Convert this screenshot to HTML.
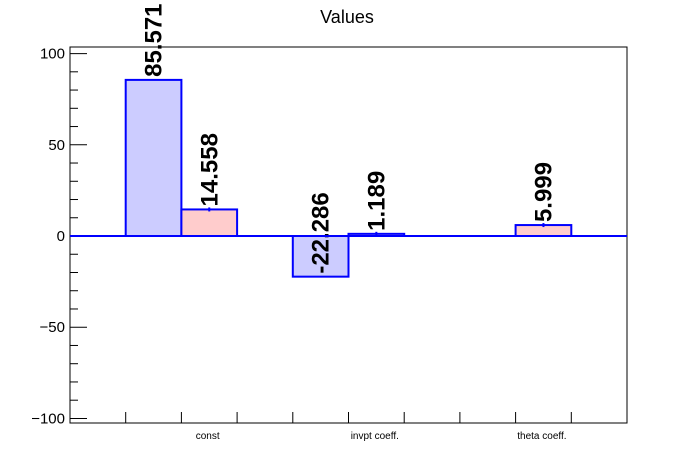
<!DOCTYPE html>
<html><head><meta charset="utf-8"><style>body{margin:0;background:#fff}svg{display:block;font-family:"Liberation Sans",sans-serif}</style></head>
<body>
<svg id="chart" width="696" height="472" viewBox="0 0 696 472" xmlns="http://www.w3.org/2000/svg">
<rect x="0" y="0" width="696" height="472" fill="#fff"/>
<text x="347" y="23" font-size="18" text-anchor="middle">Values</text>
<g id="plot"></g>
</svg>
<script>
const categories = ["const", "invpt coeff.", "theta coeff."];
const seriesA = [85.571, -22.286, 0];
const seriesB = [14.558, 1.189, 5.999];
const labelsA = ["85.571", "-22.286", ""];
const labelsB = ["14.558", "1.189", "5.999"];
const yTicks = [-100, -50, 0, 50, 100];

const L = 70, R = 627, T = 47, B = 423;
const yMin = -102.5, yMax = 103.6;
const unit = (R - L) / 10;
function y(v){ return T + (yMax - v) / (yMax - yMin) * (B - T); }
function xUnit(u){ return L + u * unit; }
const NS = "http://www.w3.org/2000/svg";
const g = document.getElementById('plot');
function mk(tag, attrs, name){ const e = document.createElementNS(NS, tag); for (const k in attrs) e.setAttribute(k, attrs[k]); 

g.appendChild(e); return e; }

// frame
mk('rect', {x:L, y:T, width:R-L, height:B-T, fill:'none', stroke:'#000', 'stroke-width':1}, 'plot-frame');
// y ticks
for (let v = -100; v <= 100; v += 10) {
  const major = v % 50 === 0;
  mk('line', {x1:L, x2:L + (major ? 17 : 8), y1:y(v), y2:y(v), stroke:'#000', 'stroke-width':1}, 'y-tick');
}
yTicks.forEach(v => {
  const t = mk('text', {x:L-5, y:y(v)+5, 'font-size':15, 'text-anchor':'end'}, 'y-tick-label');
  t.textContent = v < 0 ? '\u2212' + Math.abs(v) : String(v);
});
// x ticks
for (let k = 1; k <= 9; k++) mk('line', {x1:xUnit(k), x2:xUnit(k), y1:B, y2:B-11, stroke:'#000', 'stroke-width':1}, 'x-tick');
// bars
function bar(v, u, fill, name){
  const y0 = y(0), yv = y(v);
  mk('rect', {x:xUnit(u), y:Math.min(y0,yv), width:unit, height:Math.abs(y0-yv), fill:fill, stroke:'#0000ff', 'stroke-width':2}, name);
}
function label(v, u, txt, name){
  if (!txt) return;
  const cx = xUnit(u) + unit/2 + 8, cy = y(v) - 3;
  const t = mk('text', {x:0, y:0, 'font-size':24, 'font-weight':'bold', transform:'translate(' + cx + ',' + cy + ') rotate(-90)'}, name);
  t.textContent = txt;
}
categories.forEach((c, i) => {
  const u0 = 1 + 3*i;
  bar(seriesA[i], u0, '#ccccff', 'bar-a-' + i);
  bar(seriesB[i], u0 + 1, '#ffcccc', 'bar-b-' + i);
  mk('line', {x1:xUnit(u0+1)+unit/2, x2:xUnit(u0+1)+unit/2, y1:y(seriesB[i])-2, y2:y(seriesB[i])+2, stroke:'#0000ff', 'stroke-width':2}, 'error-bar');
  label(seriesA[i], u0, labelsA[i], 'value-label-a');
  label(seriesB[i], u0 + 1, labelsB[i], 'value-label-b');
  const t = mk('text', {x:xUnit(u0) + 82, y:B + 16, 'font-size':10, 'text-anchor':'middle'}, 'category-label');
  t.textContent = c;
});
// zero line
mk('line', {x1:L, x2:R, y1:y(0), y2:y(0), stroke:'#0000ff', 'stroke-width':2}, 'zero-line');
</script>
</body></html>
